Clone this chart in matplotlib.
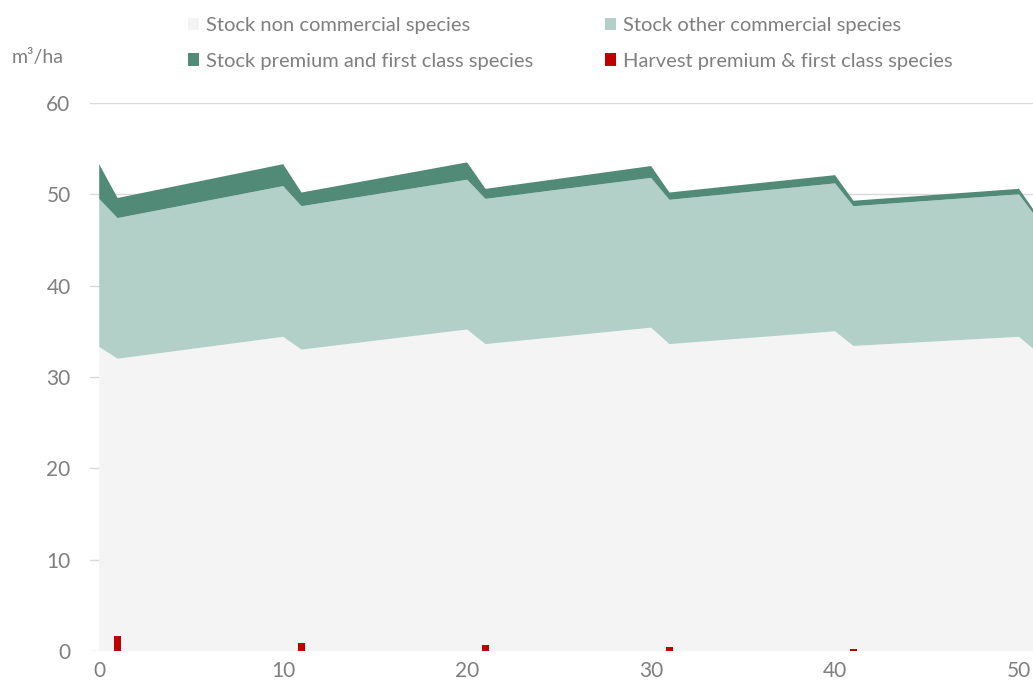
import matplotlib.pyplot as plt
import numpy as np

plt.rcParams['font.family'] = ['Lato', 'DejaVu Sans']

# years and stacked stock levels (cumulative tops)
years = [0, 1, 10, 11, 20, 21, 30, 31, 40, 41, 50, 51]
top_non_commercial = [33.3, 32.0, 34.4, 33.0, 35.2, 33.6, 35.4, 33.6, 35.0, 33.4, 34.4, 32.7]
top_other_commercial = [49.5, 47.4, 50.9, 48.7, 51.6, 49.5, 51.8, 49.4, 51.2, 48.7, 50.0, 47.3]
top_premium = [53.3, 49.6, 53.3, 50.2, 53.5, 50.6, 53.1, 50.2, 52.1, 49.3, 50.6, 47.7]

harvest_years = [1, 11, 21, 31, 41, 51]
harvest_premium = [1.6, 0.9, 0.7, 0.47, 0.25, 0.1]

labels = ['Stock non commercial species', 'Stock other commercial species',
          'Stock premium and first class species', 'Harvest premium & first class species']
colors = ['#f4f4f4', '#b2d0c8', '#528a78', '#c00000']
text_color = '#7f7f7f'

non_comm = np.array(top_non_commercial)
other = np.array(top_other_commercial) - non_comm
premium = np.array(top_premium) - np.array(top_other_commercial)

W, H = 1033, 690
fig = plt.figure(figsize=(W / 100, H / 100), dpi=100)
ax = fig.add_axes([90 / W, (H - 651) / H, (W - 90) / W, (651 - 103) / H])

polys = ax.stackplot(years, non_comm, other, premium, colors=colors[:3], linewidth=0)
bars = ax.bar(harvest_years, harvest_premium, width=0.36, color=colors[3], zorder=3)

ax.set_xlim(-0.5, 50.76)
ax.set_ylim(0, 60)
ax.set_yticks(range(0, 61, 10))
ax.set_xticks(range(0, 51, 10))
ax.grid(axis='y', color='#d9d9d9', linewidth=1)
ax.set_axisbelow(True)
for s in ax.spines.values():
    s.set_visible(False)
ax.tick_params(length=0, colors=text_color, labelsize=15)
ax.tick_params(axis='y', pad=14)
ax.tick_params(axis='x', pad=7)

fig.text(12 / W, 1 - 57 / H, 'm³/ha', color=text_color, fontsize=14, va='center', ha='left')

# legend in two columns
leg_kw = dict(loc='upper left', frameon=False, fontsize=14.5, borderpad=0,
              handlelength=0.55, handleheight=0.55, handletextpad=0.35, labelspacing=0.92,
              labelcolor=text_color)
fig.legend([polys[0], polys[2]], [labels[0], labels[2]],
           bbox_to_anchor=(178 / W, 1 - 7 / H), **leg_kw)
fig.legend([polys[1], bars], [labels[1], labels[3]],
           bbox_to_anchor=(595 / W, 1 - 7 / H), **leg_kw)

fig.savefig('out.png', dpi=100)
